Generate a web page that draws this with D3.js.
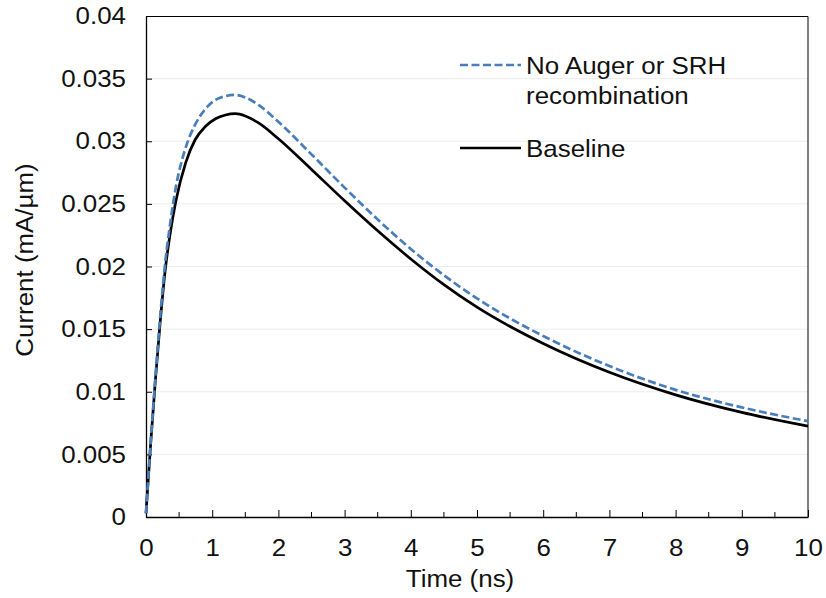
<!DOCTYPE html>
<html>
<head>
<meta charset="utf-8">
<script src="https://cdn.jsdelivr.net/npm/d3@7"></script>
<style>
  body { margin: 0; background: #fff; }
  svg { display: block; font-family: "Liberation Sans", Arial, sans-serif; }
</style>
</head>
<body>
<svg id="chart" width="826" height="598"></svg>
<script>
// time axis (ns)
const timeNs = [0, 0.07, 0.14, 0.21, 0.29, 0.37, 0.45, 0.6, 0.74, 0.9, 1.05, 1.2, 1.35, 1.5, 1.7, 2.0, 2.5, 3.0, 3.5, 4.0, 4.5, 5.0, 6.0, 7.0, 8.0, 9.0, 10.0];
// current (mA/um)
const baseline = [0.0003, 0.0058, 0.0108, 0.0153, 0.0197, 0.0228, 0.0252, 0.0283, 0.0301, 0.0312, 0.0318, 0.0321, 0.0322,
  0.03202, 0.03146, 0.0302, 0.02775, 0.02525, 0.02285, 0.0206, 0.01855, 0.01675, 0.01385, 0.01155, 0.00975, 0.00835, 0.00725];
const noAugerSRH = [0.0003, 0.0059, 0.0110, 0.0157, 0.0203, 0.0236, 0.0263, 0.0295, 0.0313, 0.0326, 0.0333, 0.0336, 0.0337,
  0.0335, 0.0329, 0.03155, 0.02895, 0.0263, 0.02375, 0.0214, 0.0193, 0.01745, 0.01445, 0.01205, 0.01015, 0.00875, 0.00765];

const xTicks = [0, 1, 2, 3, 4, 5, 6, 7, 8, 9, 10];
const xMinorTicks = [0.5, 1.5, 2.5, 3.5, 4.5, 5.5, 6.5, 7.5, 8.5, 9.5];
const yTicks = [0, 0.005, 0.01, 0.015, 0.02, 0.025, 0.03, 0.035, 0.04];
const legendLabels = [["No Auger or SRH", "recombination"], ["Baseline"]];

var svg = d3.select("#chart"),
  margin = { top: 16, right: 18, bottom: 81, left: 146 },
  width = +svg.attr("width") - margin.left - margin.right,
  height = +svg.attr("height") - margin.top - margin.bottom;

const FS = 24, SX = 1.08;
const stretch = (sel) => sel.attr("transform", `scale(${SX},1)`);

svg.append("rect").attr("width", 826).attr("height", 598).attr("fill", "#fff");

const g = svg.append("g").attr("transform", `translate(${margin.left}, ${margin.top})`);

const x = d3.scaleLinear().domain([0, 10]).range([0, width]);
const y = d3.scaleLinear().domain([0, 0.04]).range([height, 0]);

// gridlines
g.append("g")
  .selectAll("line")
  .data(yTicks.filter((d) => d > 0 && d < 0.04))
  .enter()
  .append("line")
  .attr("x1", 0)
  .attr("x2", width)
  .attr("y1", (d) => y(d))
  .attr("y2", (d) => y(d))
  .attr("stroke", "#ececec")
  .attr("stroke-width", 1);

// frame top / right
g.append("path")
  .attr("d", `M0,0.5H${width}V${height}`)
  .attr("fill", "none")
  .attr("stroke", "#000")
  .attr("stroke-width", 1);

// y axis, ticks pointing inside
const yAxis = d3.axisLeft(y).tickValues(yTicks).tickSizeInner(-6).tickSizeOuter(0)
  .tickFormat((d) => d3.format("")(+d.toFixed(3)));
g.append("g")
  .attr("class", "y axis")
  .call(yAxis)
  .call((a) => a.select(".domain").attr("stroke", "#000").attr("stroke-width", 1.3))
  .call((a) => a.selectAll(".tick line").attr("stroke", "#000"))
  .call((a) =>
    a.selectAll(".tick text")
      .attr("font-size", FS)
      .attr("font-family", "Liberation Sans, Arial, sans-serif")
      .attr("fill", "#111")
      .attr("x", -20 / SX)
      .call(stretch),
  );

// x axis, major + minor ticks pointing up
const xAxis = d3.axisBottom(x).tickValues(xTicks).tickSizeInner(-7).tickSizeOuter(0);
g.append("g")
  .attr("class", "x axis")
  .attr("transform", `translate(0, ${height})`)
  .call(xAxis)
  .call((a) => a.select(".domain").attr("stroke", "#000").attr("stroke-width", 1.3))
  .call((a) => a.selectAll(".tick line").attr("stroke", "#000"))
  .call((a) =>
    a.selectAll(".tick text")
      .attr("font-size", FS)
      .attr("font-family", "Liberation Sans, Arial, sans-serif")
      .attr("fill", "#111")
      .attr("y", 22)
      .call(stretch),
  );

g.append("g")
  .attr("transform", `translate(0, ${height})`)
  .selectAll("line")
  .data(xMinorTicks)
  .enter()
  .append("line")
  .attr("x1", (d) => x(d))
  .attr("x2", (d) => x(d))
  .attr("y1", 0)
  .attr("y2", -5)
  .attr("stroke", "#000");

// series
const line = (vals) =>
  d3.line()
    .x((d, i) => x(timeNs[i]))
    .y((d) => y(d))
    .curve(d3.curveMonotoneX)(vals);

g.append("path")
  .attr("d", line(baseline))
  .attr("fill", "none")
  .attr("stroke", "#000")
  .attr("stroke-width", 2.7);

g.append("path")
  .attr("d", line(noAugerSRH))
  .attr("fill", "none")
  .attr("stroke", "#4a7ebb")
  .attr("stroke-width", 2.7)
  .attr("stroke-dasharray", "8,3.5");

// axis titles
svg.append("g")
  .attr("transform", "translate(460, 587)")
  .append("text")
  .attr("text-anchor", "middle")
  .attr("font-size", FS)
  .attr("fill", "#111")
  .text("Time (ns)")
  .call(stretch);

svg.append("g")
  .attr("transform", "translate(33, 260) rotate(-90)")
  .append("text")
  .attr("text-anchor", "middle")
  .attr("font-size", FS)
  .attr("fill", "#111")
  .text("Current (mA/\u00b5m)")
  .call(stretch);

// legend
const legend = svg.append("g");
const legendY = [65, 148];
legend.append("line")
  .attr("x1", 460).attr("x2", 521).attr("y1", legendY[0]).attr("y2", legendY[0])
  .attr("stroke", "#4a7ebb").attr("stroke-width", 2.7).attr("stroke-dasharray", "8,3.5");
legend.append("line")
  .attr("x1", 460).attr("x2", 521).attr("y1", legendY[1]).attr("y2", legendY[1])
  .attr("stroke", "#000").attr("stroke-width", 2.7);

legendLabels.forEach((lines, k) => {
  lines.forEach((txt, j) => {
    legend.append("g")
      .attr("transform", `translate(526, ${legendY[k] + 8.5 + j * 30})`)
      .append("text")
      .attr("font-size", FS)
      .attr("fill", "#111")
      .text(txt)
      .call(stretch);
  });
});
</script>
</body>
</html>
